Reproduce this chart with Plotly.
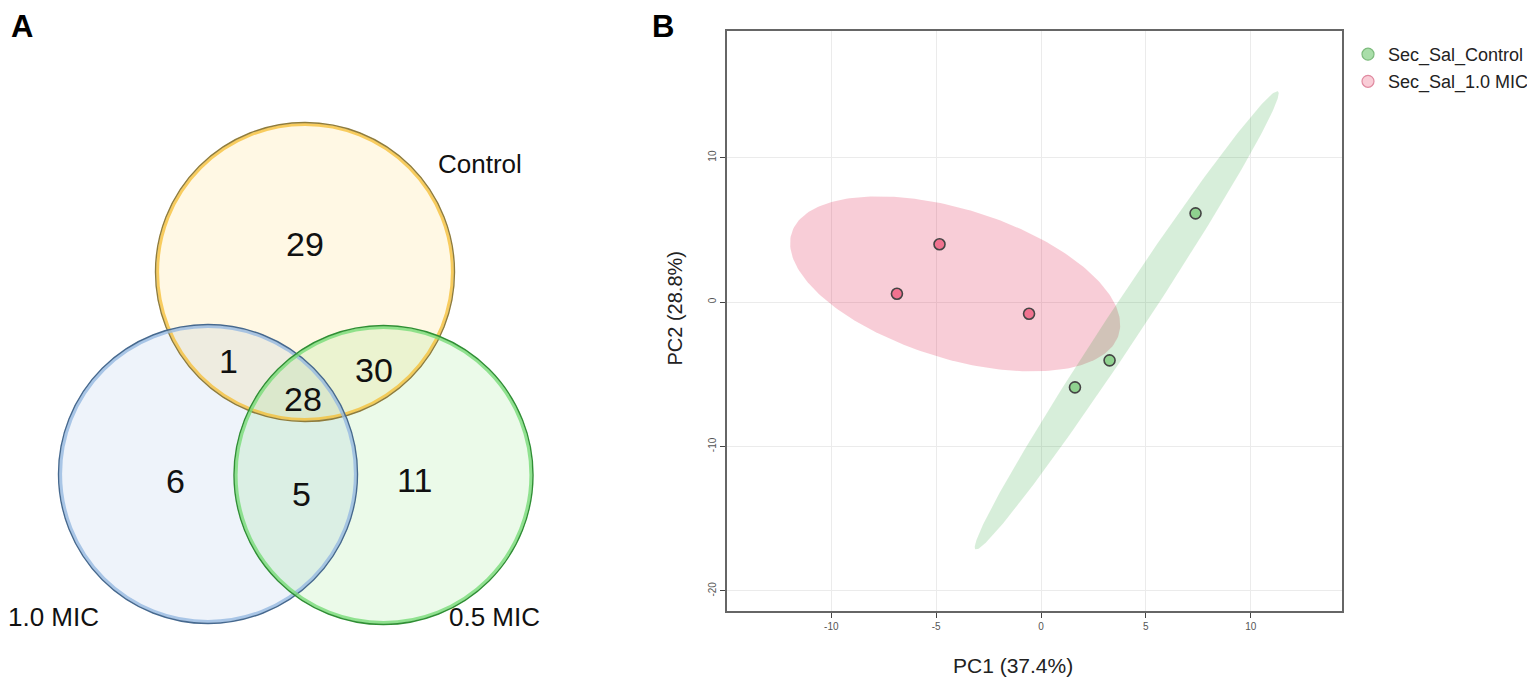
import numpy as np
import plotly.graph_objects as go

# ---------------- Panel A data (Venn) ----------------
venn_sets = ["Control", "1.0 MIC", "0.5 MIC"]
venn_regions = ["Control only", "Control & 1.0 MIC", "All three", "Control & 0.5 MIC",
                "1.0 MIC only", "1.0 MIC & 0.5 MIC", "0.5 MIC only"]
venn_counts = [29, 1, 28, 30, 6, 5, 11]

# ---------------- Panel B data (PCA scores) ----------------
group_names = ["Sec_Sal_Control", "Sec_Sal_1.0 MIC"]
control_pc1 = [7.37, 3.27, 1.62]
control_pc2 = [6.14, -4.04, -5.91]
mic_pc1 = [-6.87, -4.84, -0.57]
mic_pc2 = [0.57, 4.00, -0.81]
pc1_ticks = [-10, -5, 0, 5, 10]
pc2_ticks = [-20, -10, 0, 10]
pc1_title = "PC1 (37.4%)"
pc2_title = "PC2 (28.8%)"

# page has an 8px body margin; work in reference-window pixels
OFF = 8
W, H = 1535 - OFF, 685 - OFF
FONT = "Liberation Sans, Arial, sans-serif"


def pxx(x):
    return (x - OFF) / W


def pxy(y):
    return 1 - (y - OFF) / H


# ---------------- layout geometry (reference pixels) ----------------
venn_geom = {  # centre x, centre y, radius
    "Control": (305, 272, 150),
    "1.0 MIC": (208, 474, 150),
    "0.5 MIC": (383.5, 475, 150),
}
venn_style = {  # fill, glow, edge
    "Control": ("rgba(255,191,10,0.11)", "rgba(245,190,50,0.75)", "#8f7c3c"),
    "1.0 MIC": ("rgba(12,84,184,0.07)", "rgba(150,185,225,0.8)", "#46698f"),
    "0.5 MIC": ("rgba(33,199,11,0.09)", "rgba(120,220,120,0.8)", "#2f8f34"),
}
region_pos = [(305, 243.6), (228.6, 361), (302.6, 398.7), (374.4, 370),
              (175.9, 481.2), (301.5, 493.8), (414.6, 479.5)]
set_label_pos = {"Control": (480, 163.6), "1.0 MIC": (53.3, 617), "0.5 MIC": (494.5, 617)}

px_left, px_right, px_top, px_bottom = 726.7, 1342.3, 31, 610.7
x_zero_px, x_unit = 1041.0, 20.97
y_zero_px, y_unit = 302.0, 14.44
xr = [(px_left - x_zero_px) / x_unit, (px_right - x_zero_px) / x_unit]
yr = [(y_zero_px - px_bottom) / y_unit, (y_zero_px - px_top) / y_unit]


def conf_ellipse(xs, ys, t=2.4477, n=240):
    pts = np.column_stack([xs, ys])
    mu = pts.mean(axis=0)
    cov = np.cov(pts, rowvar=False)
    vals, vecs = np.linalg.eigh(cov)
    th = np.linspace(0, 2 * np.pi, n)
    circ = np.column_stack([np.cos(th), np.sin(th)])
    ell = mu + t * (circ * np.sqrt(vals)) @ vecs.T
    return ell[:, 0], ell[:, 1]


fig = go.Figure()

# ---- Panel B traces ----
ex, ey = conf_ellipse(mic_pc1, mic_pc2)
fig.add_trace(go.Scatter(x=ex, y=ey, mode="lines", fill="toself",
                         fillcolor="rgba(219,0,51,0.196)", line=dict(width=0),
                         hoverinfo="skip", showlegend=False, xaxis="x2", yaxis="y2"))
ex, ey = conf_ellipse(control_pc1, control_pc2)
fig.add_trace(go.Scatter(x=ex, y=ey, mode="lines", fill="toself",
                         fillcolor="rgba(0,147,19,0.157)", line=dict(width=0),
                         hoverinfo="skip", showlegend=False, xaxis="x2", yaxis="y2"))
fig.add_trace(go.Scatter(x=mic_pc1, y=mic_pc2, mode="markers", showlegend=False,
                         marker=dict(size=11, color="#f0728f", line=dict(color="#444", width=1.6)),
                         xaxis="x2", yaxis="y2"))
fig.add_trace(go.Scatter(x=control_pc1, y=control_pc2, mode="markers", showlegend=False,
                         marker=dict(size=11, color="#8fd28f", line=dict(color="#444", width=1.6)),
                         xaxis="x2", yaxis="y2"))
# legend entries
fig.add_trace(go.Scatter(x=[None], y=[None], mode="markers", name=group_names[0],
                         marker=dict(size=12, color="#a9dea9", line=dict(color="#7dbb7d", width=1.2)),
                         xaxis="x2", yaxis="y2", legendgroup="a"))
fig.add_trace(go.Scatter(x=[None], y=[None], mode="markers", name=group_names[1],
                         marker=dict(size=12, color="#f9cdd7", line=dict(color="#e08aa0", width=1.2)),
                         xaxis="x2", yaxis="y2", legendgroup="b"))

# ---- Panel A shapes ----
shapes = []
for s in venn_sets:
    cx, cy, r = venn_geom[s]
    shapes.append(dict(type="circle", xref="x", yref="y", x0=cx - r, x1=cx + r,
                       y0=cy - r, y1=cy + r, fillcolor=venn_style[s][0], line=dict(width=0)))
for s in venn_sets:
    cx, cy, r = venn_geom[s]
    rg = r - 2.6
    shapes.append(dict(type="circle", xref="x", yref="y", x0=cx - rg, x1=cx + rg,
                       y0=cy - rg, y1=cy + rg, fillcolor="rgba(0,0,0,0)",
                       line=dict(color=venn_style[s][1], width=3)))
    re = r - 0.5
    shapes.append(dict(type="circle", xref="x", yref="y", x0=cx - re, x1=cx + re,
                       y0=cy - re, y1=cy + re, fillcolor="rgba(0,0,0,0)",
                       line=dict(color=venn_style[s][2], width=1.4)))

annotations = []
for cnt, (x, y) in zip(venn_counts, region_pos):
    annotations.append(dict(x=x, y=y, xref="x", yref="y", text=str(cnt), showarrow=False,
                            font=dict(family=FONT, size=34, color="#111"),
                            xanchor="center", yanchor="middle"))
for s in venn_sets:
    x, y = set_label_pos[s]
    annotations.append(dict(x=x, y=y, xref="x", yref="y", text=s, showarrow=False,
                            font=dict(family=FONT, size=26, color="#111"),
                            xanchor="center", yanchor="middle"))
# panel letters (anchored to top edge so nothing is clipped)
annotations.append(dict(x=pxx(21.5), y=1, xref="paper", yref="paper", text="<b>A</b>",
                        showarrow=False, font=dict(family=FONT, size=31, color="#000"),
                        xanchor="center", yanchor="top", borderpad=0))
annotations.append(dict(x=pxx(663), y=1, xref="paper", yref="paper", text="<b>B</b>",
                        showarrow=False, font=dict(family=FONT, size=31, color="#000"),
                        xanchor="center", yanchor="top", borderpad=0))
# axis titles panel B
annotations.append(dict(x=pxx(1013), y=pxy(665), xref="paper", yref="paper", text=pc1_title,
                        showarrow=False, font=dict(family=FONT, size=21, color="#222"),
                        xanchor="center", yanchor="middle"))
annotations.append(dict(x=pxx(674.5), y=pxy(308), xref="paper", yref="paper", text=pc2_title,
                        showarrow=False, textangle=-90, font=dict(family=FONT, size=20, color="#222"),
                        xanchor="center", yanchor="middle"))

axis_b = dict(showgrid=True, gridcolor="#EBEBEB", gridwidth=1, zeroline=False,
              showline=True, linecolor="#666", linewidth=1.6, mirror=True,
              ticks="outside", ticklen=5, tickwidth=1, tickcolor="#444",
              tickfont=dict(family=FONT, size=10, color="#555"))

fig.update_layout(
    width=W, height=H, margin=dict(l=0, r=0, t=0, b=0),
    paper_bgcolor="white", plot_bgcolor="white",
    xaxis=dict(domain=[0, pxx(660)], range=[OFF, 660], visible=False, fixedrange=True),
    yaxis=dict(domain=[0, 1], range=[685, OFF], visible=False, fixedrange=True, anchor="x"),
    xaxis2=dict(domain=[pxx(px_left), pxx(px_right)], range=xr, anchor="y2",
                tickvals=pc1_ticks, ticktext=[str(v) for v in pc1_ticks], **axis_b),
    yaxis2=dict(domain=[pxy(px_bottom), pxy(px_top)], range=yr, anchor="x2",
                tickvals=pc2_ticks, ticktext=[str(v) for v in pc2_ticks], tickangle=-90, **axis_b),
    shapes=shapes, annotations=annotations,
    legend=dict(x=pxx(1348), y=pxy(36), xanchor="left", yanchor="top",
                font=dict(family=FONT, size=18, color="#222"), bgcolor="rgba(0,0,0,0)",
                tracegroupgap=0.7, traceorder="grouped"),
    showlegend=True,
)

fig.write_html("out.html")
